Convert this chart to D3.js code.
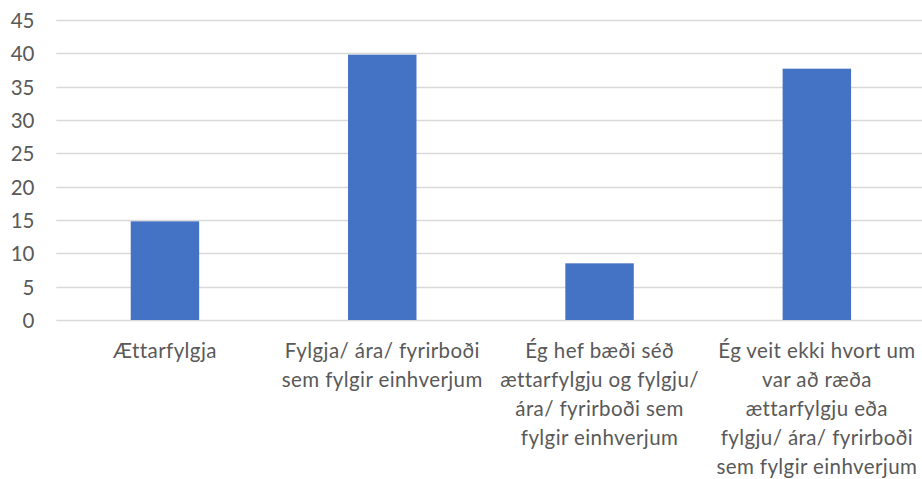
<!DOCTYPE html>
<html>
<head>
<meta charset="utf-8">
<script src="https://cdn.jsdelivr.net/npm/d3@7/dist/d3.min.js"></script>
<style>
  html, body { margin: 0; padding: 0; background: #fff; }
  svg { display: block; }
  text { font-family: Lato, "Open Sans", sans-serif; fill: #595959; }
</style>
</head>
<body>
<svg id="chart" width="922" height="479"></svg>
<script>
// Categories (each entry is one line of the wrapped axis label)
const categories = [
  "Ættarfylgja",
  "Fylgja/ ára/ fyrirboði sem fylgir einhverjum",
  "Ég hef bæði séð ættarfylgju og fylgju/ ára/ fyrirboði sem fylgir einhverjum",
  "Ég veit ekki hvort um var að ræða ættarfylgju eða fylgju/ ára/ fyrirboði sem fylgir einhverjum"
];
const labelLines = [
  ["Ættarfylgja"],
  ["Fylgja/ ára/ fyrirboði", "sem fylgir einhverjum"],
  ["Ég hef bæði séð", "ættarfylgju og fylgju/", "ára/ fyrirboði sem", "fylgir einhverjum"],
  ["Ég veit ekki hvort um", "var að ræða", "ættarfylgju eða", "fylgju/ ára/ fyrirboði", "sem fylgir einhverjum"]
];
const values = [14.8, 39.8, 8.5, 37.7];
const yTicks = [0, 5, 10, 15, 20, 25, 30, 35, 40, 45];

const svg = d3.select("#chart");
const W = 922;
const plot = { left: 56.3, right: 925.5, top: 20, bottom: 320 };

const x = d3.scaleBand()
  .domain(categories)
  .range([plot.left, plot.right])
  .paddingInner(0.685)
  .paddingOuter(0.3425);

const y = d3.scaleLinear()
  .domain([0, 45])
  .range([plot.bottom, plot.top]);

// Horizontal gridlines
svg.append("g")
  .selectAll("line")
  .data(yTicks)
  .join("line")
  .attr("x1", plot.left)
  .attr("x2", W)
  .attr("y1", d => Math.round(y(d)) + 0.5)
  .attr("y2", d => Math.round(y(d)) + 0.5)
  .attr("stroke", "#d9d9d9")
  .attr("stroke-width", 1.3);

// Y axis labels
const yAxis = d3.axisLeft(y).tickValues(yTicks).tickSize(0).tickPadding(0);
const yg = svg.append("g")
  .attr("transform", "translate(34.5,0)")
  .call(yAxis);
yg.select(".domain").remove();
yg.selectAll("text")
  .attr("font-size", 20.5)
  .attr("font-family", "Lato, 'Open Sans', sans-serif")
  .attr("fill", "#595959")
  .attr("dy", "0.36em");

// Bars
svg.append("g")
  .selectAll("rect")
  .data(values)
  .join("rect")
  .attr("x", (d, i) => x(categories[i]))
  .attr("width", x.bandwidth())
  .attr("y", d => y(d))
  .attr("height", d => y(0) - y(d))
  .attr("fill", "#4472c4");

// Category labels, wrapped
const lab = svg.append("g")
  .selectAll("text")
  .data(categories)
  .join("text")
  .attr("text-anchor", "middle")
  .attr("font-size", 20.5)
  .attr("letter-spacing", 0.4)
  .attr("x", d => x(d) + x.bandwidth() / 2)
  .attr("y", 358);
lab.each(function(d, i) {
  const t = d3.select(this);
  labelLines[i].forEach((line, j) => {
    t.append("tspan")
      .attr("x", x(d) + x.bandwidth() / 2)
      .attr("dy", j === 0 ? 0 : 29)
      .text(line);
  });
});
</script>
</body>
</html>
